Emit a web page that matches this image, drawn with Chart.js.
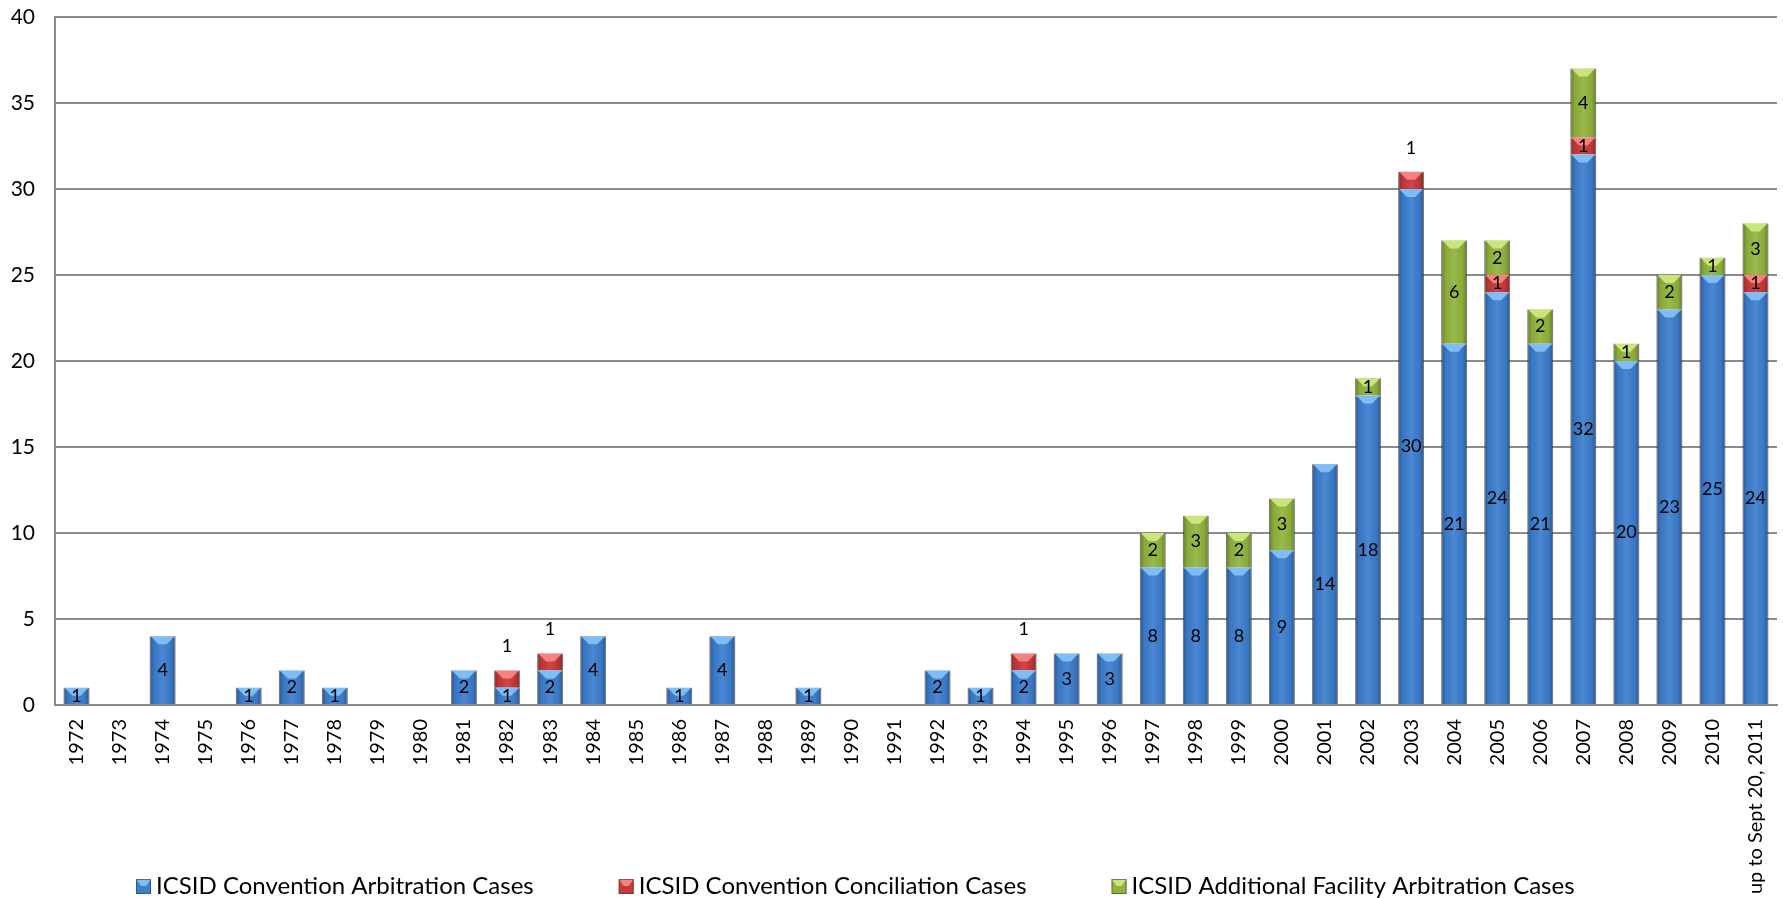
<!DOCTYPE html>
<html>
<head>
<meta charset="utf-8">
<script src="https://cdn.jsdelivr.net/npm/chart.js@4/dist/chart.umd.min.js"></script>
<style>
  html, body { margin: 0; padding: 0; background: #fff; }
  #wrap { width: 1783px; height: 898px; position: relative; }
</style>
</head>
<body>
<div id="wrap"><canvas id="casos"></canvas></div>
<script>
// Años / categorías
const years = ['1972','1973','1974','1975','1976','1977','1978','1979','1980','1981',
  '1982','1983','1984','1985','1986','1987','1988','1989','1990','1991',
  '1992','1993','1994','1995','1996','1997','1998','1999','2000','2001',
  '2002','2003','2004','2005','2006','2007','2008','2009','2010','up to Sept 20, 2011'];

// Series
const arbitration = [1,0,4,0,1,2,1,0,0,2, 1,2,4,0,1,4,0,1,0,0, 2,1,2,3,3,8,8,8,9,14, 18,30,21,24,21,32,20,23,25,24];
const conciliation = [0,0,0,0,0,0,0,0,0,0, 1,1,0,0,0,0,0,0,0,0, 0,0,1,0,0,0,0,0,0,0, 0,1,0,1,0,1,0,0,0,1];
const additional = [0,0,0,0,0,0,0,0,0,0, 0,0,0,0,0,0,0,0,0,0, 0,0,0,0,0,2,3,2,3,0, 1,0,6,2,2,4,1,2,1,3];

const seriesNames = ['ICSID Convention Arbitration Cases', 'ICSID Convention Conciliation Cases', 'ICSID Additional Facility Arbitration Cases'];

// Colores (base, brillo superior)
const baseColors = ['#3d7ecf', '#c8393a', '#92b43e'];
const lightColors = ['#80bdf4', '#f58280', '#cbe47c'];

const FONT = 'Lato, "Open Sans", sans-serif';

// bisel + degradado sobre cada barra, y etiquetas
const bevelPlugin = {
  id: 'bevel',
  afterDatasetsDraw(chart) {
    const ctx = chart.ctx;
    chart.data.datasets.forEach((ds, di) => {
      const meta = chart.getDatasetMeta(di);
      meta.data.forEach((bar, i) => {
        if (!ds.data[i]) return;
        const p = bar.getProps(['x', 'y', 'base', 'width'], true);
        const left = p.x - p.width / 2, right = p.x + p.width / 2;
        const top = Math.min(p.y, p.base), bottom = Math.max(p.y, p.base);
        const h = bottom - top;
        ctx.save();
        const g = ctx.createLinearGradient(left, 0, right, 0);
        g.addColorStop(0, 'rgba(0,0,0,0.30)');
        g.addColorStop(0.18, 'rgba(0,0,0,0.05)');
        g.addColorStop(0.5, 'rgba(255,255,255,0.08)');
        g.addColorStop(0.82, 'rgba(0,0,0,0.05)');
        g.addColorStop(1, 'rgba(0,0,0,0.30)');
        ctx.fillStyle = g;
        ctx.fillRect(left, top, p.width, h);
        // chevron claro arriba
        const d = Math.min(8, h * 0.5);
        ctx.beginPath();
        ctx.moveTo(left + 1, top);
        ctx.lineTo(right - 1, top);
        ctx.lineTo(p.x + p.width * 0.16, top + d);
        ctx.lineTo(p.x - p.width * 0.16, top + d);
        ctx.closePath();
        ctx.fillStyle = lightColors[di];
        ctx.fill();
        ctx.restore();
      });
    });

    // etiquetas de valores
    ctx.save();
    ctx.font = '18px ' + FONT;
    ctx.fillStyle = '#000';
    ctx.textAlign = 'center';
    ctx.textBaseline = 'middle';
    chart.data.datasets.forEach((ds, di) => {
      const meta = chart.getDatasetMeta(di);
      meta.data.forEach((bar, i) => {
        const v = ds.data[i];
        if (!v) return;
        const p = bar.getProps(['x', 'y', 'base'], true);
        let y = (p.y + p.base) / 2;
        if (di === 1 && !additional[i]) y = p.y - 24;
        ctx.fillText(String(v), p.x, y);
      });
    });
    ctx.restore();
  }
};

// leyenda dibujada a mano (comparte la franja de las etiquetas del eje x)
const legendPlugin = {
  id: 'legendaCustom',
  afterDraw(chart) {
    const ctx = chart.ctx;
    ctx.save();
    ctx.font = '24px ' + FONT;
    ctx.textBaseline = 'middle';
    ctx.fillStyle = '#000';
    let x = 136;
    const y = 886;
    seriesNames.forEach((name, i) => {
      ctx.fillStyle = baseColors[i];
      ctx.fillRect(x, y - 7, 15, 15);
      ctx.fillStyle = lightColors[i];
      ctx.beginPath();
      ctx.moveTo(x, y - 7); ctx.lineTo(x + 15, y - 7); ctx.lineTo(x + 10, y); ctx.lineTo(x + 5, y);
      ctx.closePath(); ctx.fill();
      ctx.strokeStyle = 'rgba(60,60,60,0.6)';
      ctx.lineWidth = 1;
      ctx.strokeRect(x + 0.5, y - 6.5, 14, 14);
      ctx.fillStyle = '#000';
      ctx.fillText(name, x + 20, y);
      x += 20 + ctx.measureText(name).width + 85;
    });
    ctx.restore();
  }
};

const ctx = document.getElementById('casos').getContext('2d');

new Chart(ctx, {
  type: 'bar',
  data: {
    labels: years,
    datasets: [
      { label: seriesNames[0], data: arbitration, backgroundColor: baseColors[0] },
      { label: seriesNames[1], data: conciliation, backgroundColor: baseColors[1] },
      { label: seriesNames[2], data: additional, backgroundColor: baseColors[2] }
    ].map(d => Object.assign(d, {
      borderColor: 'rgba(90,90,90,0.55)',
      borderWidth: 1,
      barPercentage: 0.6,
      categoryPercentage: 1.0
    }))
  },
  options: {
    responsive: true,
    maintainAspectRatio: false,
    animation: false,
    layout: { padding: { top: 17, right: 6, left: 0, bottom: 0 } },
    plugins: {
      legend: { display: false },
      tooltip: { enabled: false }
    },
    scales: {
      x: {
        stacked: true,
        grid: { display: false, drawTicks: false },
        border: { display: true, color: '#8c8c8c', width: 2 },
        ticks: {
          color: '#000',
          font: { family: FONT, size: 20 },
          minRotation: 90,
          maxRotation: 90,
          autoSkip: false,
          padding: 14
        },
        afterFit(axis) {
          axis.height = 193;
          axis.paddingLeft = 0;
          axis.paddingRight = 0;
          axis.paddingTop = 0;
          axis.paddingBottom = 0;
        }
      },
      y: {
        stacked: true,
        min: 0,
        max: 40,
        ticks: {
          stepSize: 5,
          color: '#000',
          font: { family: FONT, size: 21 },
          padding: 20
        },
        grid: { color: '#8c8c8c', lineWidth: 2, drawTicks: false },
        border: { display: true, color: '#8c8c8c', width: 2 },
        afterFit(axis) {
          axis.width = 55;
          axis.paddingTop = 0;
          axis.paddingBottom = 0;
          axis.paddingLeft = 0;
          axis.paddingRight = 0;
        }
      }
    }
  },
  plugins: [bevelPlugin, legendPlugin]
});
</script>
</body>
</html>
